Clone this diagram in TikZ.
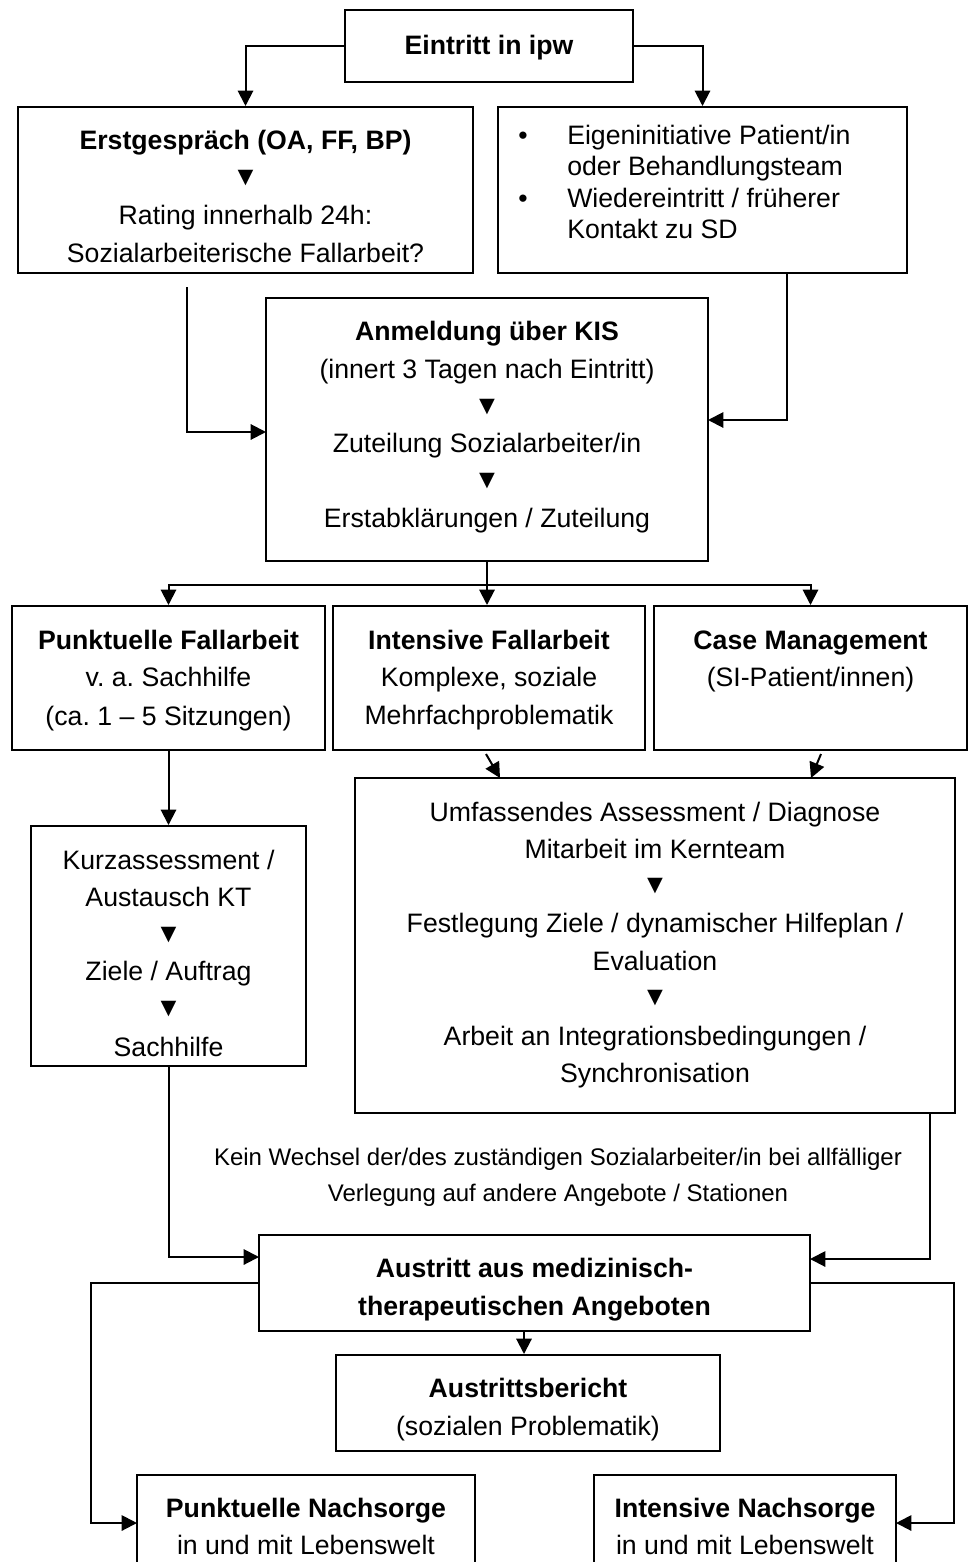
\documentclass[tikz,border=0pt]{standalone}
\usepackage{fontspec}
\setmainfont{Liberation Sans}
\usetikzlibrary{arrows.meta,fit}
\frenchspacing
\begin{document}
\begin{tikzpicture}[x=0.75pt,y=-0.75pt,
  tx/.style={font=\fontsize{20}{24}\selectfont, inner sep=0pt, anchor=base},
  sm/.style={font=\fontsize{18}{22}\selectfont, inner sep=0pt, anchor=base},
  tri/.style={font=\fontsize{20}{24}\selectfont, inner sep=0pt, anchor=center},
  bx/.style={draw, line width=1.5pt, inner sep=0pt},
  ln/.style={line width=1.5pt},
  arr/.style={line width=1.5pt, -{Triangle[length=11.5pt,width=11.5pt]}}]
\useasboundingbox (0,0) rectangle (971,1562);
\clip (0,0) rectangle (971,1562);

% Eintritt
\node[bx, fit={(345,10) (633,82)}] (ein) {};
\node[tx] (ein1) at (489,55) {\bfseries Eintritt in ipw};

% Erstgespraech
\node[bx, fit={(18,107) (473,273)}] (erst) {};
\node[tx] (erst1) at (245.5,149.5) {\bfseries Erstgespräch (OA, FF, BP)};
\node[tri] (erst2) at (245.5,178) {▼};
\node[tx] (erst3) at (245.5,224.5) {Rating innerhalb 24h:};
\node[tx] (erst4) at (245.5,262.5) {Sozialarbeiterische Fallarbeit?};

% Eigeninitiative
\node[bx, fit={(498,107) (907,273)}] (ini) {};
\node[tx] (b1) at (523,144.5) {•};
\node[tx] (b2) at (523,207.5) {•};
\node[tx, anchor=base west] (ini1) at (567,144.5) {Eigeninitiative Patient/in};
\node[tx, anchor=base west] (ini2) at (567,175.5) {oder Behandlungsteam};
\node[tx, anchor=base west] (ini3) at (567,207.5) {Wiedereintritt / früherer};
\node[tx, anchor=base west] (ini4) at (567,238.5) {Kontakt zu SD};

% Anmeldung
\node[bx, fit={(266,298) (708,561)}] (anm) {};
\node[tx] (anm1) at (487,340.5) {\bfseries Anmeldung über KIS};
\node[tx] (anm2) at (487,378.5) {(innert 3 Tagen nach Eintritt)};
\node[tri] (anm3) at (487,407) {▼};
\node[tx] (anm4) at (487,452.5) {Zuteilung Sozialarbeiter/in};
\node[tri] (anm5) at (487,481) {▼};
\node[tx] (anm6) at (487,527.5) {Erstabklärungen / Zuteilung};

% Row 3
\node[bx, fit={(12,606) (325,750)}] (punk) {};
\node[tx] (punk1) at (168.5,649.5) {\bfseries Punktuelle Fallarbeit};
\node[tx] (punk2) at (168.5,686.5) {v. a. Sachhilfe};
\node[tx] (punk3) at (168.5,725.5) {(ca. 1 – 5 Sitzungen)};

\node[bx, fit={(333,606) (645,750)}] (inten) {};
\node[tx] (inten1) at (489,649.5) {\bfseries Intensive Fallarbeit};
\node[tx] (inten2) at (489,686.5) {Komplexe, soziale};
\node[tx] (inten3) at (489,724.5) {Mehrfachproblematik};

\node[bx, fit={(654,606) (967,750)}] (case) {};
\node[tx] (case1) at (810.5,649.5) {\bfseries Case Management};
\node[tx] (case2) at (810.5,686.5) {(SI-Patient/innen)};

% Kurzassessment
\node[bx, fit={(31,826) (306,1066)}] (kurz) {};
\node[tx] (kurz1) at (168.5,869.5) {Kurzassessment /};
\node[tx] (kurz2) at (168.5,906.5) {Austausch KT};
\node[tri] (kurz3) at (168.5,935) {▼};
\node[tx] (kurz4) at (168.5,980.5) {Ziele / Auftrag};
\node[tri] (kurz5) at (168.5,1009) {▼};
\node[tx] (kurz6) at (168.5,1056.5) {Sachhilfe};

% Big box
\node[bx, fit={(355,778) (955,1113)}] (big) {};
\node[tx] (big1) at (655,821.5) {Umfassendes Assessment / Diagnose};
\node[tx] (big2) at (655,858.5) {Mitarbeit im Kernteam};
\node[tri] (big3) at (655,886) {▼};
\node[tx] (big4) at (655,932.5) {Festlegung Ziele / dynamischer Hilfeplan /};
\node[tx] (big5) at (655,970.5) {Evaluation};
\node[tri] (big6) at (655,998) {▼};
\node[tx] (big7) at (655,1045.5) {Arbeit an Integrationsbedingungen /};
\node[tx] (big8) at (655,1082.5) {Synchronisation};

% note
\node[sm] (note1) at (558,1165.5) {Kein Wechsel der/des zuständigen Sozialarbeiter/in bei allfälliger};
\node[sm] (note2) at (558,1201.5) {Verlegung auf andere Angebote / Stationen};

% Austritt
\node[bx, fit={(259,1235) (810,1331)}] (aus) {};
\node[tx] (aus1) at (534.5,1277.5) {\bfseries Austritt aus medizinisch-};
\node[tx] (aus2) at (534.5,1315.5) {\bfseries therapeutischen Angeboten};

\node[bx, fit={(336,1355) (720,1451)}] (ber) {};
\node[tx] (ber1) at (528,1397.5) {\bfseries Austrittsbericht};
\node[tx] (ber2) at (528,1435.5) {(sozialen Problematik)};

\node[bx, fit={(137,1475) (475,1620)}] (pn) {};
\node[tx] (pn1) at (306,1517.5) {\bfseries Punktuelle Nachsorge};
\node[tx] (pn2) at (306,1554.5) {in und mit Lebenswelt};

\node[bx, fit={(594,1475) (896,1620)}] (in) {};
\node[tx] (in1) at (745,1517.5) {\bfseries Intensive Nachsorge};
\node[tx] (in2) at (745,1554.5) {in und mit Lebenswelt};

% connectors
\draw[arr] (ein.west) -| (erst.north);
\draw[arr] (ein.east) -| (ini.north);

\coordinate (c1) at (187,287);
\coordinate (c2) at (266,432);
\draw[arr] (c1) |- (c2);
\coordinate (c3) at (787,273);
\coordinate (c4) at (708,420);
\draw[arr] (c3) |- (c4);

\coordinate (j1) at (487,585);
\draw[ln] (anm.south) -- (j1);
\draw[arr] (j1) -| (punk.north);
\draw[arr] (j1) -| (case.north);
\draw[arr] (j1) -- (j1 |- inten.north);

\coordinate (d1) at (486,754);
\coordinate (d2) at (500,778);
\draw[arr] (d1) -- (d2);
\coordinate (d3) at (821,754);
\coordinate (d4) at (811,778);
\draw[arr] (d3) -- (d4);

\draw[arr] (punk.south) -- (kurz.north);

\coordinate (k2) at (259,1257);
\draw[arr] (kurz.south) |- (k2);
\coordinate (g1) at (930,1113);
\coordinate (g2) at (810,1259);
\draw[arr] (g1) |- (g2);

\coordinate (a1) at (524,1331);
\draw[arr] (a1) -- (a1 |- ber.north);

\coordinate (q1) at (91,1283);
\coordinate (q2) at (137,1523);
\draw[arr] (aus.west) -- (q1) |- (q2);
\coordinate (q3) at (954,1283);
\coordinate (q4) at (896,1523);
\draw[arr] (aus.east) -- (q3) |- (q4);
\end{tikzpicture}
\end{document}
